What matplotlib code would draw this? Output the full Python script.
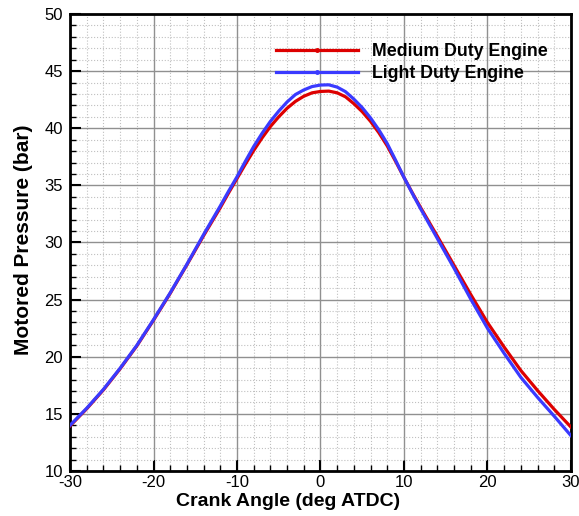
import matplotlib
matplotlib.use("Agg")
import matplotlib.pyplot as plt
from matplotlib.lines import Line2D
from matplotlib.ticker import MultipleLocator

plt.rcParams['font.family'] = ['Liberation Sans', 'DejaVu Sans']
plt.rcParams['axes.unicode_minus'] = False

# crank angle (deg ATDC)
crank = [-30, -28, -26, -24, -22, -20, -18, -16, -14,
         -12, -11, -10, -9, -8, -7, -6, -5, -4, -3, -2, -1,
         0, 1, 2, 3, 4, 5, 6, 7, 8, 9, 10, 11, 12,
         13, 14, 16, 18, 20, 22, 24, 26, 28, 30]

# motored pressure (bar)
medium_duty = [13.95, 15.45, 17.1, 18.95, 20.95, 23.2, 25.55, 28.05, 30.6,
               33.05, 34.35, 35.6, 36.85, 38.05, 39.15, 40.15, 41.0, 41.75, 42.35, 42.8, 43.1,
               43.22, 43.25, 43.1, 42.75, 42.15, 41.45, 40.6, 39.6, 38.45, 37.1, 35.7, 34.35, 33.05,
               31.8, 30.55, 28.0, 25.45, 23.0, 20.85, 18.8, 17.05, 15.4, 13.85]
light_duty = [14.0, 15.5, 17.15, 19.0, 21.0, 23.25, 25.6, 28.1, 30.7,
              33.2, 34.5, 35.75, 37.1, 38.4, 39.55, 40.6, 41.5, 42.3, 42.95, 43.35, 43.65,
              43.78, 43.8, 43.6, 43.2, 42.55, 41.8, 40.9, 39.85, 38.65, 37.2, 35.7, 34.3, 32.95,
              31.65, 30.35, 27.75, 25.05, 22.5, 20.3, 18.2, 16.45, 14.8, 13.1]

red = '#dd0000'
blue = '#3a3aff'

fig = plt.figure(figsize=(5.79, 5.16), dpi=100)
ax = fig.add_axes([0.121, 0.0872, 0.865, 0.8857])

ax.plot(crank, medium_duty, color=red, lw=2.3, zorder=3)
ax.plot(crank, light_duty, color=blue, lw=2.3, zorder=4)

ax.set_xlim(-30, 30)
ax.set_ylim(10, 50)
ax.xaxis.set_major_locator(MultipleLocator(10))
ax.xaxis.set_minor_locator(MultipleLocator(2))
ax.yaxis.set_major_locator(MultipleLocator(5))
ax.yaxis.set_minor_locator(MultipleLocator(1))

ax.grid(which='major', color='#909090', lw=1.0, ls='-')
ax.grid(which='minor', color='#c0c0c0', lw=0.8, ls=':')
ax.set_axisbelow(True)

ax.tick_params(which='major', direction='in', length=8, width=1.5, labelsize=12,
               top=False, right=False)
ax.tick_params(which='minor', direction='in', length=4, width=1.0, top=False, right=False)
ax.tick_params(axis='x', pad=3)
ax.tick_params(axis='y', pad=5)
for s in ax.spines.values():
    s.set_linewidth(2)

ax.set_xlabel('Crank Angle (deg ATDC)', fontsize=14, fontweight='bold')
ax.set_ylabel('Motored Pressure (bar)', fontsize=15, fontweight='bold')
ax.xaxis.set_label_coords(0.435, -0.048)
ax.yaxis.set_label_coords(-0.074, 0.505)

handles = [Line2D([], [], color=red, lw=2.3, marker='o', markersize=2.5),
           Line2D([], [], color=blue, lw=2.3, marker='o', markersize=2.5)]
leg = ax.legend(handles, ['Medium Duty Engine', 'Light Duty Engine'],
                loc='upper left', bbox_to_anchor=(0.38, 0.972), frameon=False,
                handlelength=4.6, handletextpad=0.8, labelspacing=0.3,
                prop={'weight': 'bold', 'size': 12.8}, numpoints=1)

fig.savefig('out.png', dpi=100)
